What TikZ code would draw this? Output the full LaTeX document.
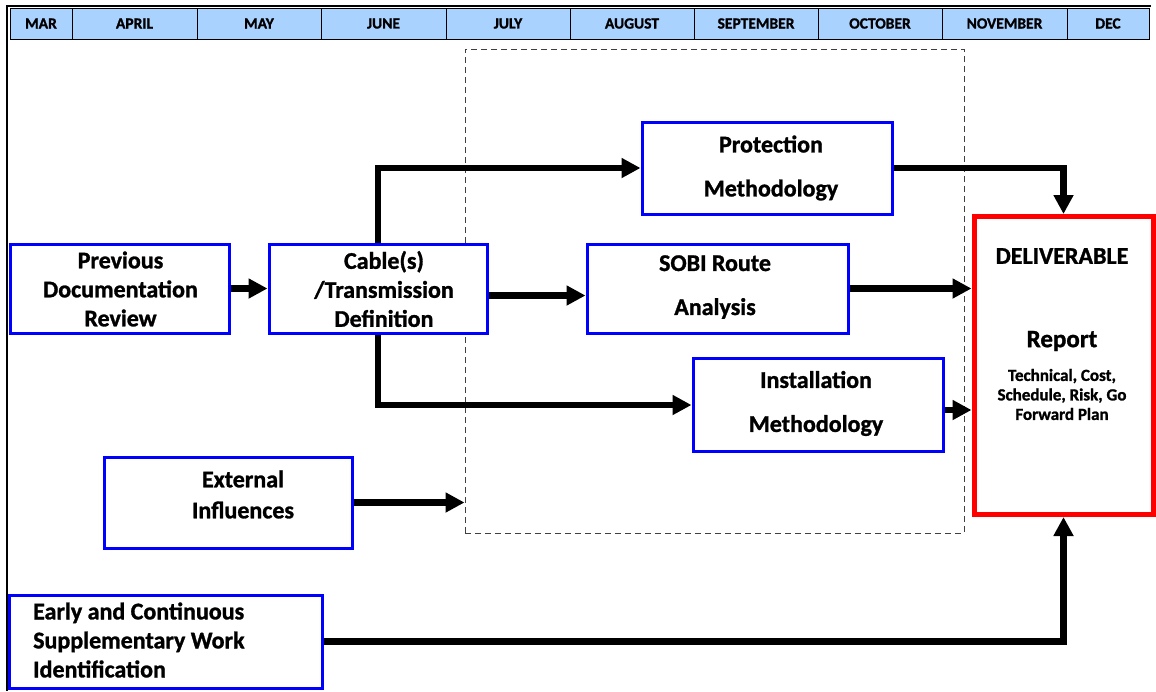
\documentclass[tikz,border=0pt]{standalone}
\usepackage{fontspec}
\setmainfont{Carlito}[BoldFeatures={FakeBold=1.2}]
\usetikzlibrary{arrows.meta}
\definecolor{hdrblue}{RGB}{170,210,255}
\definecolor{bxblue}{RGB}{0,0,255}
\definecolor{bxred}{RGB}{255,0,0}
\tikzset{
  box/.style={draw=bxblue, line width=3pt, rectangle, inner sep=0pt, fill=white},
  redbox/.style={draw=bxred, line width=5pt, rectangle, inner sep=0pt, fill=white},
  txt/.style={align=center, inner sep=0pt, font=\fontsize{24}{29}\selectfont\bfseries},
  wtxt/.style={align=center, inner sep=0pt, font=\fontsize{24}{44}\selectfont\bfseries},
  month/.style={draw=black, line width=0.8pt, fill=hdrblue, rectangle, inner sep=0pt,
    minimum height=31pt, font=\fontsize{15.5}{17}\selectfont\bfseries},
  arr/.style={line width=6.5pt, -{Triangle[length=19pt,width=19pt]}},
  dashbox/.style={draw=black!75, line width=1pt, dash pattern=on 6pt off 4pt, rectangle, inner sep=0pt}
}
\begin{document}
\begin{tikzpicture}[x=1pt,y=-1pt]
\useasboundingbox (0,0) rectangle (1156,691);
% frame
\draw[line width=2.5pt] (7,691) -- (7,6) -- (1151,6);
% header
\foreach \a/\b/\m/\n in {10/72/MAR/mar,72/197/APRIL/apr,197/321/MAY/may,321/446/JUNE/jun,446/570/JULY/jul,570/694/AUGUST/aug,694/818/SEPTEMBER/sep,818/942/OCTOBER/oct,942/1067/NOVEMBER/nov,1067/1149/DEC/dec}{
  \pgfmathsetmacro{\w}{\b-\a}
  \node[month, minimum width=\w pt] (\n) at ({(\a+\b)/2},23.5) {\m};
}
% dashed region
\node[dashbox, minimum width=499pt, minimum height=484pt] (dash) at (714.5,291) {};
% boxes
\node[box, minimum width=219pt, minimum height=89pt] (prev) at (119.5,288.5) {};
\node[txt] (prevT) at (120.5,289) {Previous\\Documentation\\Review};
\node[box, minimum width=218pt, minimum height=89pt] (cable) at (378,288.5) {};
\node[txt] (cableT) at (384,289) {Cable(s)\\/Transmission\\Definition};
\node[box, minimum width=250pt, minimum height=92pt] (prot) at (767,168) {};
\node[wtxt] (protT) at (771,168) {Protection\\Methodology};
\node[box, minimum width=261pt, minimum height=89pt] (sobi) at (717.5,288.5) {};
\node[wtxt] (sobiT) at (715,287) {SOBI Route\\Analysis};
\node[box, minimum width=250pt, minimum height=93pt] (inst) at (818,405) {};
\node[wtxt] (instT) at (816,403.5) {Installation\\Methodology};
\node[box, minimum width=248pt, minimum height=91pt] (ext) at (228,502.5) {};
\node[txt, font=\fontsize{24}{31}\selectfont\bfseries] (extT) at (243,494.5) {External\\Influences};
\node[box, minimum width=313pt, minimum height=93pt] (early) at (166,641.5) {};
\node[txt, align=left, anchor=west] (earlyT) at (33,640) {Early and Continuous\\Supplementary Work\\Identification};
\node[redbox, minimum width=179pt, minimum height=298pt] (deliv) at (1063.5,365.5) {};
\node[inner sep=0pt, font=\fontsize{24}{28}\selectfont\bfseries] (delivT) at (1062,256) {DELIVERABLE};
\node[inner sep=0pt, font=\fontsize{25}{28}\selectfont\bfseries] (repT) at (1062,341) {Report};
\node[align=center, inner sep=0pt, font=\fontsize{17}{19.5}\selectfont\bfseries] (detT) at (1062,394.5) {Technical, Cost,\\Schedule, Risk, Go\\Forward Plan};
% connectors
\draw[arr] (prev.east) -- (cable.west);
\draw[arr] ([yshift=-7pt]cable.east) -- ([yshift=-7pt]cable.east -| sobi.west);
\draw[arr] (cable.north) |- (prot.west);
\draw[arr] (cable.south) |- (inst.west);
\draw[arr] (prot.east) -| (deliv.north);
\draw[arr] (sobi.east) -- (sobi.east -| deliv.west);
\draw[arr] ([yshift=-5pt]inst.east) -- ([yshift=-5pt]inst.east -| deliv.west);
\draw[arr] (ext.east) -- (ext.east -| dash.west);
\draw[arr] (early.east) -| (deliv.south);
\end{tikzpicture}
\end{document}
